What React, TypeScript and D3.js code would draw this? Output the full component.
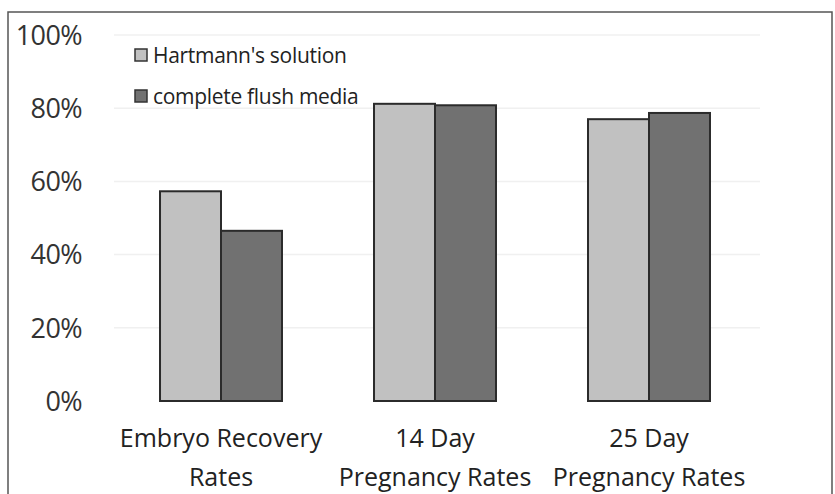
import React from "react";
import * as d3 from "d3";

const categories = [["Embryo Recovery", "Rates"], ["14 Day", "Pregnancy Rates"], ["25 Day", "Pregnancy Rates"]];
const seriesNames = ["Hartmann's solution", "complete flush media"];
const hartmann = [0.573, 0.812, 0.77];
const completeFlush = [0.465, 0.808, 0.787];
const yTicks = [0, 0.2, 0.4, 0.6, 0.8, 1.0];
const colors = ["#c1c1c1", "#717171"];

const W = 835;
const H = 494;

export default function App() {
  const x0 = d3.scaleBand().domain(categories.map((_, i) => String(i))).range([114, 756]).paddingInner(0.43).paddingOuter(0.215);
  const x1 = d3.scaleBand().domain(["0", "1"]).range([0, x0.bandwidth()]);
  const y = d3.scaleLinear().domain([0, 1]).range([401, 35]);
  const series = [hartmann, completeFlush];
  const fmt = d3.format(".0%");
  const font = "'Open Sans', sans-serif";

  return (
    <svg width={W} height={H} style={{ position: "absolute", left: 0, top: 0, background: "#fff" }}>
      <rect x={8} y={12} width={824} height={500} fill="#fff" stroke="#555" strokeWidth={1.5} />
      {yTicks.filter((t) => t > 0).map((t) => (
        <line key={t} x1={114} x2={760} y1={y(t)} y2={y(t)} stroke="#f0f0f0" strokeWidth={1.5} />
      ))}
      {yTicks.map((t) => (
        <text key={t} x={82} y={y(t)} dy="0.36em" textAnchor="end" fontFamily={font} fontSize={27} fill="#333" letterSpacing={-0.6}>
          {fmt(t)}
        </text>
      ))}
      {categories.map((c, i) => (
        <g key={i}>
          {series.map((s, j) => (
            <rect
              key={j}
              x={(x0(String(i)) as number) + (x1(String(j)) as number)}
              y={y(s[i])}
              width={x1.bandwidth()}
              height={y(0) - y(s[i])}
              fill={colors[j]}
              stroke="#2b2b2b"
              strokeWidth={2}
            />
          ))}
          {c.map((line, k) => (
            <text
              key={k}
              x={(x0(String(i)) as number) + x0.bandwidth() / 2}
              y={438 + k * 39}
              dy="0.36em"
              textAnchor="middle"
              fontFamily={font}
              fontSize={25}
              fill="#222"
              letterSpacing={0}
            >
              {line}
            </text>
          ))}
        </g>
      ))}
      {seriesNames.map((n, j) => (
        <g key={n}>
          <rect x={135} y={49 + j * 41} width={12} height={12} fill={colors[j]} stroke="#333" strokeWidth={1.5} />
          <text x={153} y={55 + j * 41} dy="0.36em" fontFamily={font} fontSize={21} fill="#222" letterSpacing={-0.3}>
            {n}
          </text>
        </g>
      ))}
    </svg>
  );
}
